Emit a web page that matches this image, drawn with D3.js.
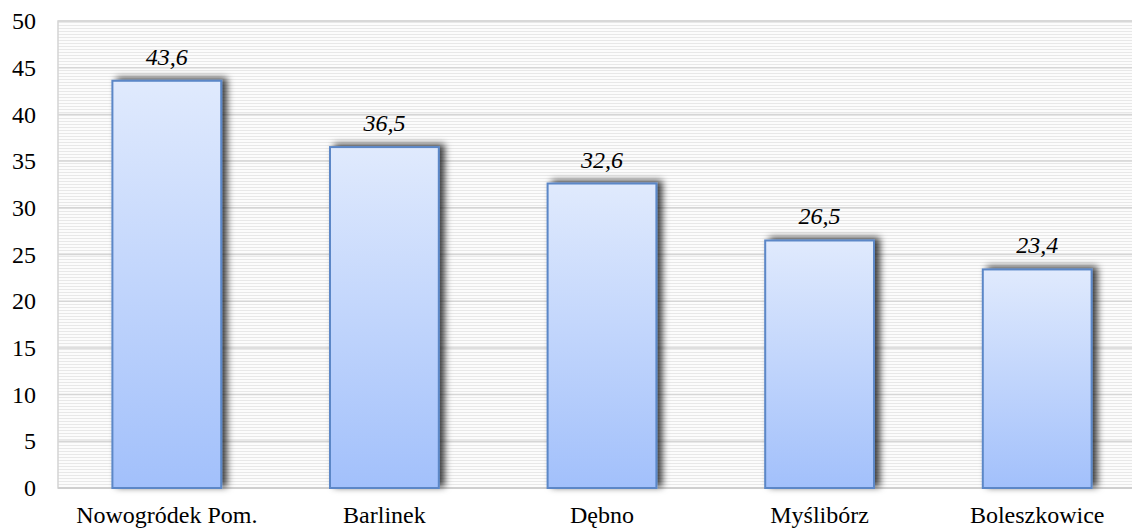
<!DOCTYPE html>
<html><head><meta charset="utf-8">
<script src="https://cdn.jsdelivr.net/npm/d3@7"></script>
<style>body{margin:0;background:#fff;}svg{display:block;}</style>
</head><body>
<script>
const categories = ["Nowogródek Pom.", "Barlinek", "Dębno", "Myślibórz", "Boleszkowice"];
const values = [43.6, 36.5, 32.6, 26.5, 23.4];
const valueLabels = ["43,6", "36,5", "32,6", "26,5", "23,4"];
const yTicks = [0, 5, 10, 15, 20, 25, 30, 35, 40, 45, 50];

const W = 1132, H = 530;
const m = {left: 58, top: 21, right: -14, bottom: 42};
const svg = d3.select("body").append("svg").attr("width", W).attr("height", H);
const defs = svg.append("defs");

const pat = defs.append("pattern").attr("id","stripes").attr("patternUnits","userSpaceOnUse")
  .attr("width", 8).attr("height", 3);
pat.append("rect").attr("width",8).attr("height",3).attr("fill","#fcfcfc");
pat.append("rect").attr("y",1).attr("width",8).attr("height",1).attr("fill","#e8e8e8");

const grad = defs.append("linearGradient").attr("id","barGrad").attr("x1",0).attr("y1",0).attr("x2",0).attr("y2",1);
grad.append("stop").attr("offset","0%").attr("stop-color","#e0eafd");
grad.append("stop").attr("offset","100%").attr("stop-color","#a2c0fb");

const f = defs.append("filter").attr("id","shadow").attr("x","-20%").attr("y","-20%").attr("width","150%").attr("height","140%");
f.append("feDropShadow").attr("dx",5).attr("dy",-2).attr("stdDeviation",3.5)
  .attr("flood-color","#000").attr("flood-opacity",0.75);

const x0 = m.left, x1 = W - m.right;
const y0 = H - m.bottom, y1 = m.top;
const x = d3.scaleBand().domain(categories).range([x0, x1]).paddingInner(0.5).paddingOuter(0.25);
const y = d3.scaleLinear().domain([0, 50]).range([y0, y1]);

svg.append("rect").attr("x", x0).attr("y", y1).attr("width", x1 - x0).attr("height", y0 - y1)
  .attr("fill","url(#stripes)").attr("stroke","#d4d4d4").attr("stroke-width",1.5);

svg.append("g").selectAll("line").data(yTicks.slice(1)).join("line")
  .attr("x1", x0).attr("x2", x1).attr("y1", d => y(d)).attr("y2", d => y(d))
  .attr("stroke","#d6d6d6").attr("stroke-width",1.5);

svg.append("line").attr("x1", x0).attr("x2", x1).attr("y1", y0).attr("y2", y0)
  .attr("stroke","#cfcfcf").attr("stroke-width",2);

const yAxis = d3.axisLeft(y).tickValues(yTicks).tickSize(0).tickPadding(22).tickFormat(d3.format("d"));
const gy = svg.append("g").attr("transform",`translate(${x0},0)`).call(yAxis);
gy.select(".domain").remove();
gy.selectAll("text").attr("font-family","'Liberation Serif', serif").attr("font-size",24).attr("fill","#000");

const xAxis = d3.axisBottom(x).tickSize(0).tickPadding(18);
const gx = svg.append("g").attr("transform",`translate(0,${y0})`).call(xAxis);
gx.select(".domain").remove();
gx.selectAll("text").attr("font-family","'Liberation Serif', serif").attr("font-size",24).attr("fill","#000");

svg.append("g").selectAll("rect").data(values).join("rect")
  .attr("x", (d,i) => x(categories[i])).attr("width", x.bandwidth())
  .attr("y", d => y(d)).attr("height", d => y0 - y(d))
  .attr("fill","url(#barGrad)").attr("stroke","#5b87c7").attr("stroke-width",2)
  .attr("filter","url(#shadow)");

svg.append("g").selectAll("text").data(values).join("text")
  .attr("x", (d,i) => x(categories[i]) + x.bandwidth()/2).attr("y", d => y(d) - 16)
  .attr("text-anchor","middle").attr("font-family","'Liberation Serif', serif")
  .attr("font-style","italic").attr("font-size",24).attr("fill","#000")
  .text((d,i) => valueLabels[i]);
</script>
</body></html>
